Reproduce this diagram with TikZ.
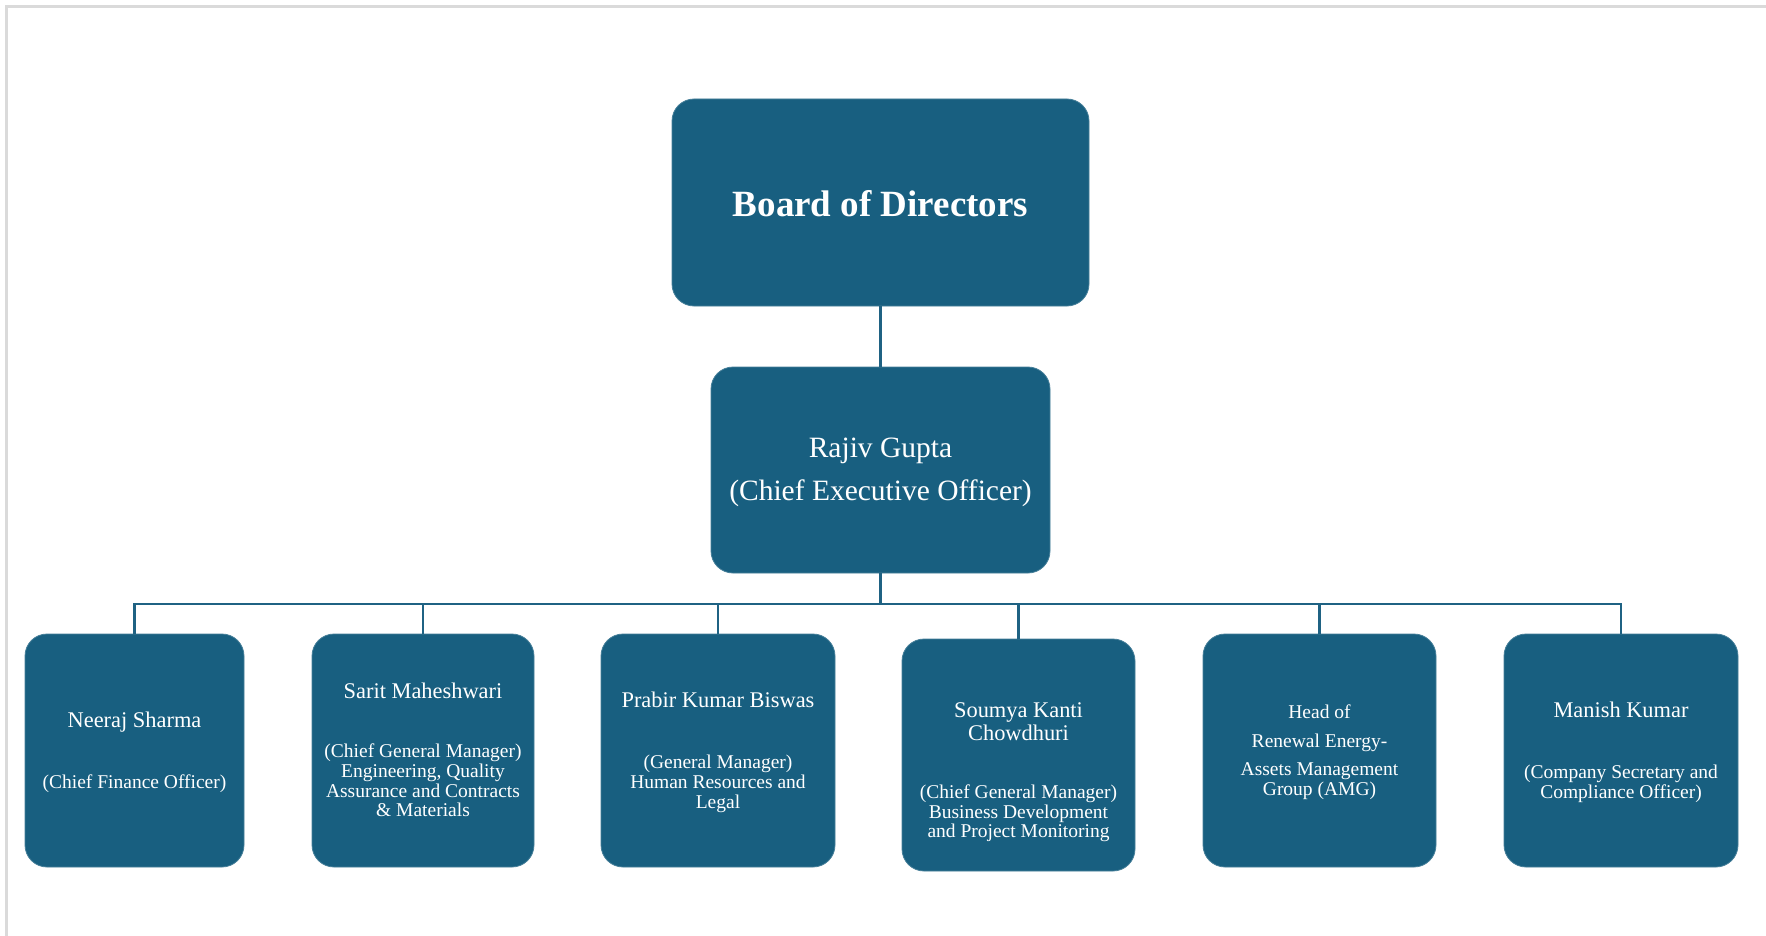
\documentclass[tikz,border=0pt]{standalone}
\usepackage{fontspec}
\setmainfont{Liberation Serif}
\definecolor{boxblue}{HTML}{185F80}
\definecolor{lineblue}{HTML}{1F6283}
\definecolor{framegray}{HTML}{DADADA}
\begin{document}
\begin{tikzpicture}[x=1pt,y=-1pt,
  box/.style={rounded corners=22pt, fill=boxblue, draw=boxblue!80!white, line width=0.8pt, inner sep=0pt, outer sep=0pt},
  conn/.style={draw=lineblue, line width=2.6pt},
  ttl/.style={text=white, font=\fontsize{37}{40}\selectfont\bfseries, anchor=base, inner sep=0pt},
  ceot/.style={text=white, font=\fontsize{29.5}{32}\selectfont, anchor=base, inner sep=0pt},
  nm/.style={text=white, font=\fontsize{22.4}{24}\selectfont, anchor=base, inner sep=0pt},
  rl/.style={text=white, font=\fontsize{19.5}{20}\selectfont, anchor=base, inner sep=0pt}]
\useasboundingbox (0,0) rectangle (1766,936);
\fill[white] (0,0) rectangle (1766,936);
% page frame
\draw[framegray, line width=3pt] (6.5,936) -- (6.5,6.5) -- (1766,6.5);
% boxes
\node[box, minimum width=417pt, minimum height=207pt] (board) at (880.5,202.5) {};
\node[box, minimum width=339pt, minimum height=206pt] (ceo) at (880.5,470) {};
\node[box, minimum width=219pt, minimum height=233pt] (b1) at (134.5,750.5) {};
\node[box, minimum width=222pt, minimum height=233pt] (b2) at (423,750.5) {};
\node[box, minimum width=234pt, minimum height=233pt] (b3) at (718,750.5) {};
\node[box, minimum width=233pt, minimum height=232pt] (b4) at (1018.5,755) {};
\node[box, minimum width=233pt, minimum height=233pt] (b5) at (1319.5,750.5) {};
\node[box, minimum width=234pt, minimum height=233pt] (b6) at (1621,750.5) {};
% connectors
\draw[conn] (board.south) -- (ceo.north);
\draw[conn] (ceo.south) -- ++(0,31) coordinate (j);
\draw[conn] (b1.north) |- (j) -| (b6.north);
\draw[conn] (b2.north) -- (b2.north |- j);
\draw[conn] (b3.north) -- (b3.north |- j);
\draw[conn] (b4.north) -- (b4.north |- j);
\draw[conn] (b5.north) -- (b5.north |- j);
% texts
\node[ttl] (tb) at (880.5,216) {Board of Directors};
\node[ceot] (tc1) at (880.5,457) {Rajiv Gupta};
\node[ceot] (tc2) at (880.5,500) {(Chief Executive Officer)};
\node[nm] (t1a) at (134.5,727) {Neeraj Sharma};
\node[rl] (t1b) at (134.5,788) {(Chief Finance Officer)};
\node[nm] (t2a) at (423,698) {Sarit Maheshwari};
\node[rl] (t2b) at (423,757) {(Chief General Manager)};
\node[rl] (t2c) at (423,777) {Engineering, Quality};
\node[rl] (t2d) at (423,797) {Assurance and Contracts};
\node[rl] (t2e) at (423,816) {\& Materials};
\node[nm] (t3a) at (718,707) {Prabir Kumar Biswas};
\node[rl] (t3b) at (718,768) {(General Manager)};
\node[rl] (t3c) at (718,788) {Human Resources and};
\node[rl] (t3d) at (718,808) {Legal};
\node[nm] (t4a) at (1018.5,717) {Soumya Kanti};
\node[nm] (t4b) at (1018.5,740) {Chowdhuri};
\node[rl] (t4c) at (1018.5,798) {(Chief General Manager)};
\node[rl] (t4d) at (1018.5,818) {Business Development};
\node[rl] (t4e) at (1018.5,837) {and Project Monitoring};
\node[rl] (t5a) at (1319.5,718) {Head of};
\node[rl] (t5b) at (1319.5,747) {Renewal Energy-};
\node[rl] (t5c) at (1319.5,775) {Assets Management};
\node[rl] (t5d) at (1319.5,795) {Group (AMG)};
\node[nm] (t6a) at (1621,717) {Manish Kumar};
\node[rl] (t6b) at (1621,778) {(Company Secretary and};
\node[rl] (t6c) at (1621,798) {Compliance Officer)};
\end{tikzpicture}
\end{document}
